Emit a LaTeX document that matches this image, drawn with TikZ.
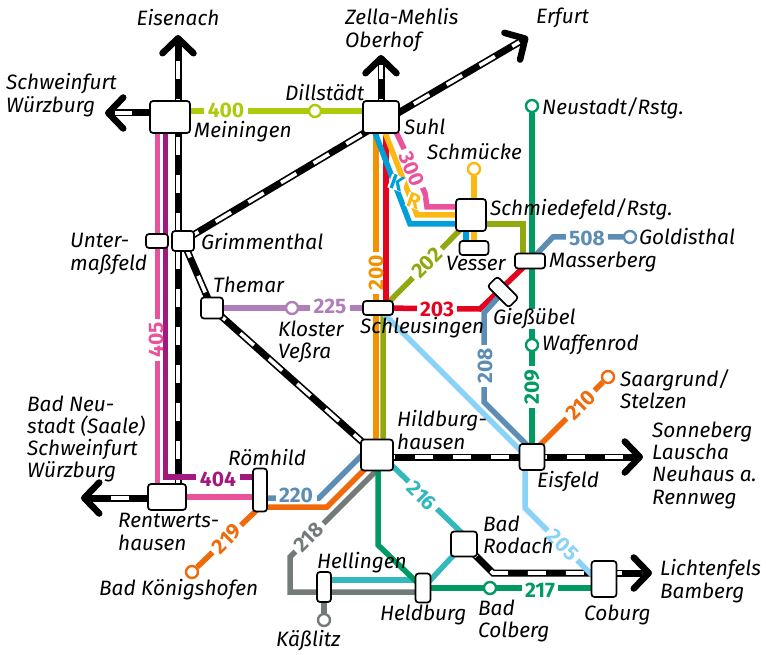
\documentclass[tikz,border=0pt]{standalone}
\usepackage{fontspec}
\setmainfont{Fira Sans}
\usetikzlibrary{arrows.meta}
\pgfdeclarelayer{strecken}
\pgfsetlayers{strecken,main}
\definecolor{lime400}{HTML}{AFCA0B}
\definecolor{pink300}{HTML}{E9539B}
\definecolor{violet404}{HTML}{A2197E}
\definecolor{mauve225}{HTML}{B07FB9}
\definecolor{orange200}{HTML}{F39200}
\definecolor{red203}{HTML}{E30520}
\definecolor{olive202}{HTML}{93A70E}
\definecolor{gold}{HTML}{FDB913}
\definecolor{blueK}{HTML}{009FDA}
\definecolor{sky205}{HTML}{8AD2F6}
\definecolor{steel}{HTML}{5B8DB5}
\definecolor{green209}{HTML}{009A62}
\definecolor{orange210}{HTML}{EE6A0A}
\definecolor{teal216}{HTML}{33B8BD}
\definecolor{grey218}{HTML}{727B7A}
\tikzset{
  station/.style={draw,fill=white,rounded corners=3pt,line width=1.7pt,inner sep=0pt},
  halt/.style={circle,draw=#1,fill=white,line width=2.4pt,minimum size=12pt,inner sep=0pt},
  ort/.style={font=\itshape\fontsize{20.8}{22.3}\selectfont,align=left,anchor=west,inner sep=0pt},
  num/.style={font=\bfseries\fontsize{21}{21}\selectfont,text=#1,fill=white,inner xsep=3.5pt,inner ysep=0pt},
  linie/.style={draw=#1,line width=5.5pt},
  rail/.style={black,line width=7pt,postaction={draw,white,line width=3.6pt,dash pattern=on 18pt off 20pt,-,shorten >=10pt}},
  railtip/.style={-{Straight Barb[length=15pt,width=31pt,line width=6.5pt,round]}},
}
\begin{document}
\begin{tikzpicture}[x=1pt,y=-1pt]
\useasboundingbox (0,0) rectangle (766,655);
% Bahnhoefe
\node[station,minimum width=40,minimum height=32] (meiningen) at (170,117) {};
\node[station,minimum width=36,minimum height=32] (suhl) at (381,117) {};
\node[station,minimum width=22,minimum height=20] (grimmenthal) at (183,241) {};
\node[station,minimum width=22,minimum height=14] (untermassfeld) at (157,241) {};
\node[station,minimum width=22,minimum height=21] (themar) at (212,308) {};
\node[station,minimum width=30,minimum height=14] (schleusingen) at (378,308) {};
\node[station,minimum width=30,minimum height=32] (schmiedefeld) at (471,215) {};
\node[station,minimum width=29,minimum height=14] (vesser) at (474,248) {};
\node[station,minimum width=30,minimum height=15] (masserberg) at (530,261) {};
\node[station,minimum width=30,minimum height=14,rotate=-45] (giessuebel) at (503,292) {};
\node[station,minimum width=32,minimum height=31] (hildburghausen) at (377,455) {};
\node[station,minimum width=25,minimum height=26] (eisfeld) at (532,457) {};
\node[station,minimum width=38,minimum height=26] (rentwertshausen) at (167,497) {};
\node[station,minimum width=14,minimum height=43] (roemhild) at (260,490) {};
\node[station,minimum width=14,minimum height=30] (hellingen) at (324,587) {};
\node[station,minimum width=15,minimum height=29] (heldburg) at (423,588) {};
\node[station,minimum width=26,minimum height=25] (badrodach) at (464,544) {};
\node[station,minimum width=25,minimum height=36] (coburg) at (604,579) {};
% Haltepunkte
\node[halt=lime400] (dillstaedt) at (315,111) {};
\node[halt=green209] (neustadt) at (532,106) {};
\node[halt=green209] (waffenrod) at (532,345) {};
\node[halt=gold] (schmuecke) at (474,169) {};
\node[halt=steel] (goldisthal) at (630,237) {};
\node[halt=mauve225] (kloster) at (292,308) {};
\node[halt=orange210] (saargrund) at (608,377) {};
\node[halt=orange210] (koenigshofen) at (192,572) {};
\node[halt=grey218] (kaesslitz) at (324,620) {};
\node[halt=green209] (colberg) at (490,588) {};
% Liniennummern
\node[num=lime400] (n400) at (226,110) {400};
\node[num=pink300,rotate=90] (n405) at (156,340) {405};
\node[num=violet404] (n404) at (218,479) {404};
\node[num=steel] (n220) at (296,495) {220};
\node[num=orange210,rotate=45] (n219) at (227,539) {219};
\node[num=grey218,rotate=45] (n218) at (309,537) {218};
\node[num=teal216,rotate=-45] (n216) at (422,496) {216};
\node[num=green209] (n217) at (540,590) {217};
\node[num=sky205,rotate=-45] (n205) at (563,545) {205};
\node[num=orange210,rotate=45] (n210) at (581,405) {210};
\node[num=green209,rotate=90] (n209) at (532,387) {209};
\node[num=steel,rotate=90] (n208) at (485,366) {208};
\node[num=red203] (n203) at (437,309) {203};
\node[num=mauve225] (n225) at (330,306) {225};
\node[num=orange200,rotate=90] (n200) at (376,273) {200};
\node[num=olive202,rotate=45] (n202) at (427,263) {202};
\node[num=steel] (n508) at (587,238) {508};
\node[num=pink300,rotate=-68] (n300) at (412,169) {300};
\node[num=gold,rotate=-20,inner xsep=1pt] (nR) at (414,201) {R};
\node[num=blueK,rotate=-20,inner xsep=1pt] (nK) at (397,183) {K};
% Ortsnamen
\node[ort,anchor=center] (teisenach) at (178,18) {Eisenach};
\node[ort] (tzella) at (345,30) {Zella-Mehlis\\Oberhof};
\node[ort] (terfurt) at (536,18) {Erfurt};
\node[ort] (tschweinfurt) at (6,95) {Schweinfurt\\Würzburg};
\node[ort] (tdillstaedt) at (285,93) {Dillstädt};
\node[ort] (tmeiningen) at (194,132) {Meiningen};
\node[ort] (tsuhl) at (404,127) {Suhl};
\node[ort] (tneustadt) at (542,108) {Neustadt/Rstg.};
\node[ort] (tschmuecke) at (427,152) {Schmücke};
\node[ort] (tschmiedefeld) at (490,209) {Schmiedefeld/Rstg.};
\node[ort] (tgoldisthal) at (639,237) {Goldisthal};
\node[ort] (tmasserberg) at (549,262) {Masserberg};
\node[ort] (tvesser) at (446,263) {Vesser};
\node[ort] (tgrimmenthal) at (201,242) {Grimmenthal};
\node[ort] (tunter) at (70,254) {Unter-\\maßfeld};
\node[ort] (tthemar) at (213,285) {Themar};
\node[ort] (tkloster) at (278,342) {Kloster\\Veßra};
\node[ort] (tschleusingen) at (360,328) {Schleusingen};
\node[ort,fill=white] (tgiessuebel) at (493,319) {Gießübel};
\node[ort] (twaffenrod) at (542,345) {Waffenrod};
\node[ort] (tsaargrund) at (620,389) {Saargrund/\\Stelzen};
\node[ort] (thildburg) at (397,430) {Hildburg-\\hausen};
\node[ort] (tsonneberg) at (652,465) {Sonneberg\\Lauscha\\Neuhaus a.\\Rennweg};
\node[ort] (teisfeld) at (537,482) {Eisfeld};
\node[ort] (tbadneustadt) at (27,439) {Bad Neu-\\stadt (Saale)\\Schweinfurt\\Würzburg};
\node[ort] (troemhild) at (228,458) {Römhild};
\node[ort] (trentwerts) at (118,532) {Rentwerts-\\hausen};
\node[ort] (tkoenigshofen) at (99,590) {Bad Königshofen};
\node[ort] (thellingen) at (317,563) {Hellingen};
\node[ort] (tkaesslitz) at (276,641) {Käßlitz};
\node[ort] (theldburg) at (380,615) {Heldburg};
\node[ort] (tbadrodach) at (483,535) {Bad\\Rodach};
\node[ort] (tbadcolberg) at (478,621) {Bad\\Colberg};
\node[ort] (tcoburg) at (584,615) {Coburg};
\node[ort] (tlichtenfels) at (660,581) {Lichtenfels\\Bamberg};
% Enden der Fernstrecken
\coordinate (eisenachEnd) at (178,35);
\coordinate (wuerzburgEnd) at (105,113);
\coordinate (oberhofEnd) at (381,55);
\coordinate (erfurtEnd) at (528,37);
\coordinate (sonnebergEnd) at (643,457);
\coordinate (badneustadtEnd) at (81,498);
\coordinate (lichtenfelsEnd) at (652,573);
\begin{pgfonlayer}{strecken}
% Fernstrecken
\draw[rail,railtip] (eisenachEnd |- rentwertshausen.center) -- (eisenachEnd);
\draw[rail,railtip] (meiningen.center |- wuerzburgEnd) -- (wuerzburgEnd);
\draw[rail,railtip] (suhl.center) -- (oberhofEnd);
\draw[rail] (grimmenthal.center) -- ([yshift=-6]suhl.center);
\draw[rail,railtip] ([yshift=-6]suhl.center) -- (erfurtEnd);
\draw[rail] (grimmenthal.center) -- (themar.center);
\draw[rail] (themar.center) -- (hildburghausen.center);
\draw[rail,railtip] (hildburghausen.center |- eisfeld.center) -- (sonnebergEnd);
\draw[rail,railtip] (rentwertshausen.center |- badneustadtEnd) -- (badneustadtEnd);
\draw[rail] (badrodach.center) -- (493,573) -- (coburg.center |- lichtenfelsEnd);
\draw[rail,railtip] (coburg.center |- lichtenfelsEnd) -- (lichtenfelsEnd);
% Meiningen
\draw[linie=lime400] (meiningen.center |- dillstaedt) -- (suhl.center |- dillstaedt);
\draw[linie=pink300] (157.5,117) -- (157.5,497) -- (rentwertshausen.center);
\draw[linie=pink300] (rentwertshausen.center) -- (roemhild.center |- rentwertshausen);
\draw[linie=violet404] (165.5,117) -- (165.5,477) -- (roemhild.center |- 0,477);
\draw[linie=mauve225] (themar.center) -- (schleusingen.center);
% Suhl
\draw[linie=orange200] (376,117) -- (376,455);
\draw[linie=olive202] (383,455) -- (383,308) -- ([xshift=-11,yshift=-15]schmiedefeld.center);
\draw[linie=red203] (386,117) -- (386,308) -- (schleusingen.center);
\draw[linie=red203] (schleusingen.center) -- (480,309) -- (masserberg.center);
\draw[linie=sky205] (schleusingen.center) -- (520,450) -- (525,458) -- (525,508) -- (592,575);
\draw[linie=gold] (379,117) -- (417,215) -- (schmiedefeld.center);
\draw[linie=gold] (schmuecke) -- (schmuecke |- vesser.center);
\draw[linie=pink300] (389,117) -- (425,193) -- (427,207) -- (schmiedefeld.center |- 0,207);
\draw[linie=blueK] (369,117) -- (410,224) -- (schmiedefeld.center |- 0,224);
\draw[linie=blueK] (466,224) -- (466,248);
\draw[linie=olive202] (schmiedefeld.center |- 0,224) -- (523,224) -- (523,261);
% Eisfeld
\draw[linie=steel] (goldisthal) -- (553,237) -- (masserberg.center);
\draw[linie=steel] (giessuebel.center) -- (484,313) -- (484,402) -- ([xshift=-4,yshift=11]eisfeld.center);
\draw[linie=green209] (neustadt) -- (eisfeld.center);
\draw[linie=orange210] ([xshift=-4]eisfeld.center) -- (saargrund);
% Hildburghausen
\draw[linie=steel] (roemhild.center |- 0,498) -- (319,498) -- ([xshift=-15]hildburghausen.center);
\draw[linie=orange210] (roemhild.center |- 0,507) -- (327,507) -- ([xshift=-12,yshift=-14]hildburghausen.center);
\draw[linie=orange210] ([yshift=-17]roemhild.center) -- (koenigshofen);
\draw[linie=grey218] ([yshift=-15]hildburghausen.center) -- (290,557) -- (290,592) -- (heldburg.center |- 0,592);
\draw[linie=grey218] (hellingen.center) -- (kaesslitz);
\draw[linie=teal216] (hellingen.center |- 0,580) -- (heldburg.center |- 0,580);
\draw[linie=teal216] ([yshift=4]hildburghausen.center) -- ([yshift=9]badrodach.center);
\draw[linie=teal216] (badrodach.center) -- (heldburg.center);
\draw[linie=green209] (378,455) -- (378,545) -- (heldburg.center);
\draw[linie=green209] (heldburg.center) -- (coburg.center |- heldburg.center);
\end{pgfonlayer}
\end{tikzpicture}
\end{document}
